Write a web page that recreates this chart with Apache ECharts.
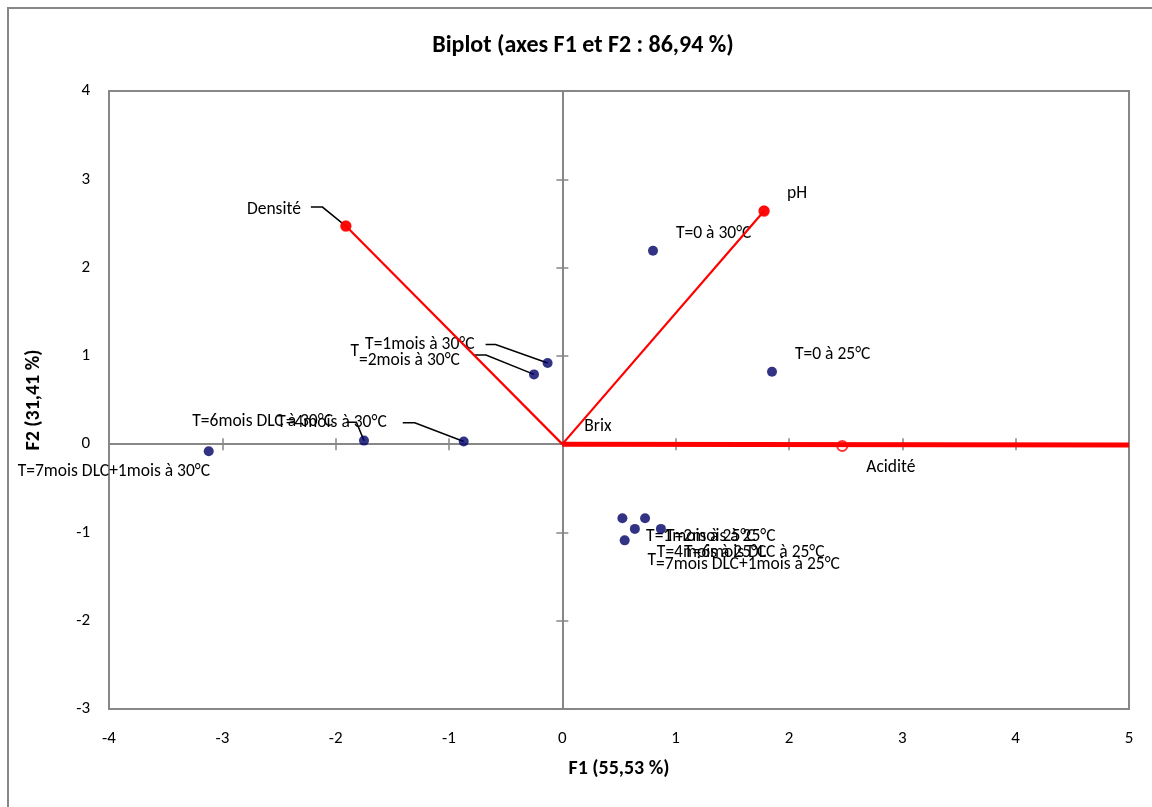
<!DOCTYPE html>
<html><head><meta charset="utf-8">
<script src="https://cdn.jsdelivr.net/npm/echarts@6/dist/echarts.min.js"></script>
<style>html,body{margin:0;padding:0;background:#fff}#c{width:1152px;height:807px}</style>
</head><body><div id="c"></div>
<script>
// ---- data ----
const obsNames = ['T=0 à 30°C','T=1mois à 30°C','T=2mois à 30°C','T=4mois à 30°C','T=6mois DLC à 30°C','T=7mois DLC+1mois à 30°C',
                  'T=0 à 25°C','T=1mois à 25°C','T=2mois à 25°C','T=4mois à 25°C','T=6mois DLC à 25°C','T=7mois DLC+1mois à 25°C'];
const obsF1 = [0.80, -0.13, -0.25, -0.87, -1.75, -3.12, 1.85, 0.53, 0.73, 0.64, 0.87, 0.55];
const obsF2 = [2.19, 0.92, 0.79, 0.03, 0.04, -0.08, 0.82, -0.84, -0.84, -0.96, -0.96, -1.09];
const varNames = ['Densité','pH','Brix','Acidité'];
const varF1 = [-1.91, 1.78, 0.00, 2.47];
const varF2 = [2.47, 2.64, 0.01, -0.02];
const rayF1 = [0, 5];
const rayF2 = [0, -0.01];
const xTicks = [-4, -3, -2, -1, 0, 1, 2, 3, 4, 5];
const yTicks = [-3, -2, -1, 0, 1, 2, 3, 4];
const titleText = 'Biplot (axes F1 et F2 : 86,94 %)';
const xName = 'F1 (55,53 %)';
const yName = 'F2 (31,41 %)';

// ---- styles (label placement in pixels relative to each point) ----
const FONT = 'Carlito, Lato, sans-serif';
const LFS = 17.5;
const labelStyle = {
  'T=0 à 30°C': {dx: 23, dy: -17},
  'T=0 à 25°C': {dx: 23, dy: -17},
  'T=1mois à 30°C': {dx: -73, dy: -18.4, align: 'right', leader: [[-52, -18.4], [-62, -18.4]]},
  'T=2mois à 30°C': {dx: -175, dy: -14, split: 1, raise: -8.6, leader: [[-48, -19.3], [-61, -19.3]]},
  'T=4mois à 30°C': {dx: -77, dy: -18.7, align: 'right', leader: [[-49, -18.7], [-61, -18.7]]},
  'T=6mois DLC à 30°C': {dx: -31, dy: -19, align: 'right', leader: [[-7.6, -18.4], [-17.6, -18.4]]},
  'T=7mois DLC+1mois à 30°C': {dx: -191, dy: 20},
  'T=1mois à 25°C': {dx: 23.7, dy: 18.7},
  'T=2mois à 25°C': {dx: 21, dy: 18.7},
  'T=4mois à 25°C': {dx: 22, dy: 23.7},
  'T=6mois DLC à 25°C': {dx: 23, dy: 23.7},
  'T=7mois DLC+1mois à 25°C': {dx: 31.4, dy: 24, split: 1, raise: -3.3},
  'Densité': {dx: -45, dy: -16.5, align: 'right', leader: [[-23.4, -19], [-35, -19]]},
  'pH': {dx: 23, dy: -17},
  'Brix': {dx: 22, dy: -17},
  'Acidité': {dx: 24, dy: 22}
};
const varSymbol = {'Densité': 'circle', 'pH': 'circle', 'Brix': 'none', 'Acidité': 'emptyCircle'};

const AX = '#878787';
const chart = echarts.init(document.getElementById('c'), null, {renderer: 'canvas'});

const labelItems = obsNames.map((n, i) => ({name: n, value: [obsF1[i], obsF2[i]]}))
  .concat(varNames.map((n, i) => ({name: n, value: [varF1[i], varF2[i]]})));

function renderLabel(params, api) {
  const item = labelItems[params.dataIndex];
  const cfg = labelStyle[item.name] || {dx: 22, dy: -17};
  const p = api.coord([api.value(0), api.value(1)]);
  const children = [];
  if (cfg.leader) {
    const pts = [[p[0], p[1]]].concat(cfg.leader.map(d => [p[0] + d[0], p[1] + d[1]]));
    children.push({type: 'polyline', shape: {points: pts}, style: {stroke: '#000', lineWidth: 1.5, fill: null}});
  }
  const base = {fontSize: LFS, fontFamily: FONT, fill: '#000', verticalAlign: 'middle'};
  if (cfg.split) {
    const head = item.name.slice(0, cfg.split), rest = item.name.slice(cfg.split);
    children.push({type: 'text', x: p[0] + cfg.dx, y: p[1] + cfg.dy + cfg.raise,
      style: Object.assign({}, base, {text: head, align: 'right'})});
    children.push({type: 'text', x: p[0] + cfg.dx, y: p[1] + cfg.dy,
      style: Object.assign({}, base, {text: rest, align: 'left'})});
  } else {
    children.push({type: 'text', x: p[0] + cfg.dx, y: p[1] + cfg.dy,
      style: Object.assign({}, base, {text: item.name, align: cfg.align || 'left'})});
  }
  return {type: 'group', children: children};
}

const zeroAxisX = (inside) => ({
  type: 'value', min: xTicks[0], max: xTicks[xTicks.length - 1], interval: 1,
  axisLine: {show: true, onZero: true, onZeroAxisIndex: 0, lineStyle: {color: AX, width: 2}},
  axisTick: {show: true, inside: inside, length: 6, lineStyle: {color: AX, width: 1.5}},
  axisLabel: {show: false}, splitLine: {show: false}
});
const zeroAxisY = (inside) => ({
  type: 'value', min: yTicks[0], max: yTicks[yTicks.length - 1], interval: 1,
  axisLine: {show: true, onZero: true, onZeroAxisIndex: 0, lineStyle: {color: AX, width: 2}},
  axisTick: {show: true, inside: inside, length: 6, lineStyle: {color: AX, width: 1.5}},
  axisLabel: {show: false}, splitLine: {show: false}
});

const vectorSeries = varNames.map((n, i) => ({
  type: 'line', name: n, xAxisIndex: 0, yAxisIndex: 0, z: 4,
  data: [[0, 0], [varF1[i], varF2[i]]],
  symbol: 'none', lineStyle: {color: '#FF0000', width: 2.2}, silent: true, animation: false
}));

const option = {
  animation: false,
  backgroundColor: '#fff',
  grid: {left: 109, top: 91, width: 1020, height: 618, show: true, borderColor: AX, borderWidth: 2,
         containLabel: false, outerBoundsMode: 'none'},
  graphic: [
    {type: 'rect', shape: {x: 8, y: 8, width: 1200, height: 900}, style: {fill: 'none', stroke: AX, lineWidth: 2}, z: -10, silent: true},
    {type: 'text', x: 583, y: 46, style: {text: titleText, fontSize: 24, fontWeight: 'bold', fontFamily: FONT, fill: '#000', align: 'center', verticalAlign: 'middle'}}
  ],
  xAxis: [
    {type: 'value', min: xTicks[0], max: xTicks[xTicks.length - 1], interval: 1, position: 'bottom',
     axisLine: {show: false, onZero: false}, axisTick: {show: false}, splitLine: {show: false},
     axisLabel: {color: '#000', fontSize: 17, fontFamily: FONT, margin: 21, showMinLabel: true, showMaxLabel: true},
     name: xName, nameLocation: 'middle', nameGap: 50,
     nameTextStyle: {fontWeight: 'bold', fontSize: 20, color: '#000', fontFamily: FONT}},
    zeroAxisX(true), zeroAxisX(false)
  ],
  yAxis: [
    {type: 'value', min: yTicks[0], max: yTicks[yTicks.length - 1], interval: 1, position: 'left',
     axisLine: {show: false, onZero: false}, axisTick: {show: false}, splitLine: {show: false},
     axisLabel: {color: '#000', fontSize: 17, fontFamily: FONT, margin: 19, showMinLabel: true, showMaxLabel: true},
     name: yName, nameLocation: 'middle', nameGap: 65, nameRotate: 90,
     nameTextStyle: {fontWeight: 'bold', fontSize: 20, color: '#000', fontFamily: FONT}},
    zeroAxisY(true), zeroAxisY(false)
  ],
  series: [
    {type: 'scatter', name: 'varMarkers', z: 3, silent: true,
     data: varNames.map((n, i) => ({value: [varF1[i], varF2[i]], symbol: varSymbol[n]})),
     symbolSize: 10, itemStyle: {color: '#FF0000', borderColor: '#FF0000', borderWidth: 1.5}},
    {type: 'line', name: 'ray', z: 4, data: rayF1.map((x, i) => [x, rayF2[i]]), symbol: 'none',
     lineStyle: {color: '#FF0000', width: 5}, silent: true},
    ...vectorSeries,
    {type: 'scatter', name: 'varPts', z: 5, silent: true,
     data: varNames.map((n, i) => ({value: [varF1[i], varF2[i]], symbol: varSymbol[n] === 'circle' ? 'circle' : 'none'})),
     symbolSize: 10, itemStyle: {color: '#FF0000'}},
    {type: 'custom', name: 'labels', z: 3, silent: true, clip: false,
     data: labelItems.map(d => d.value), renderItem: renderLabel},
    {type: 'scatter', name: 'observations', z: 6, silent: true,
     data: obsF1.map((x, i) => [x, obsF2[i]]), symbol: 'circle', symbolSize: 10,
     itemStyle: {color: '#000066'}}
  ]
};
chart.setOption(option);
</script></body></html>
